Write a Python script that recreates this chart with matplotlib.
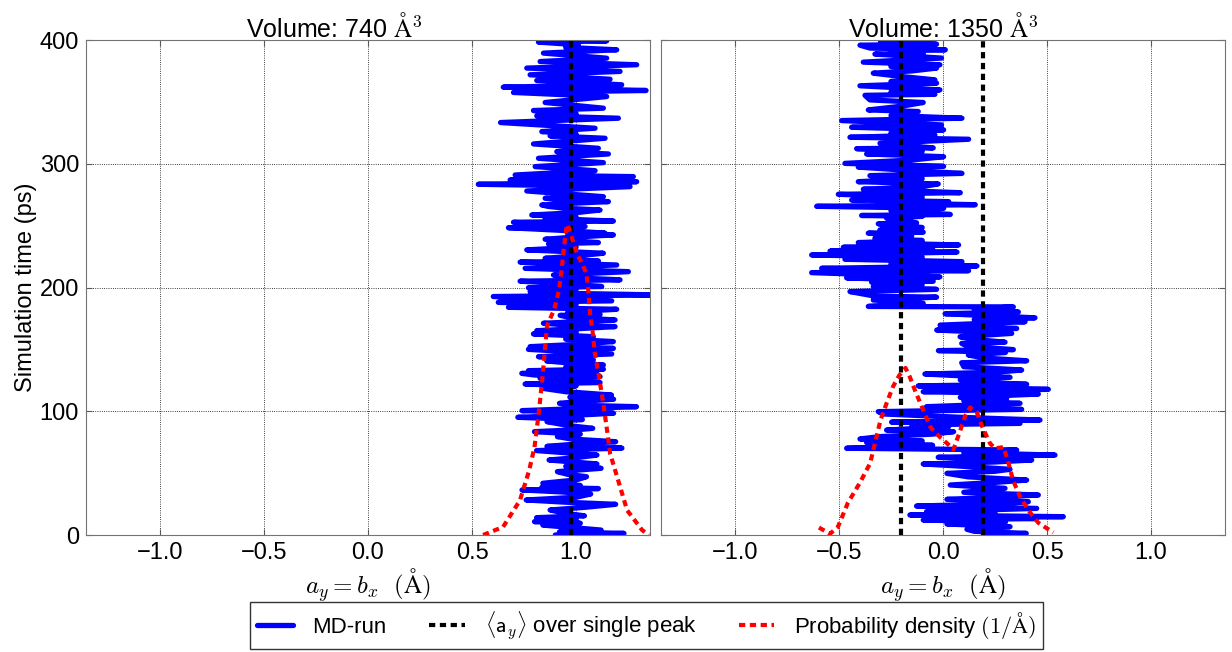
import matplotlib
matplotlib.use("Agg")
import matplotlib.pyplot as plt

plt.rcParams['font.family'] = ['Liberation Sans', 'DejaVu Sans']
plt.rcParams['mathtext.fontset'] = 'cm'
plt.rcParams['font.size'] = 17

# ---- data ----
# left panel, volume 740 A^3 : MD run (time in ps, a_y in A)
t_740 = [0, 1.3, 2.5, 4, 6, 8, 9.5, 10.8, 12.5, 14, 15.5, 17.5, 20.2, 22.5, 24.8, 26.5, 28.3, 30.5,
         33.1, 34.8, 36.4, 37.5, 38.5, 40, 41.8, 44.5, 47.1, 49, 51.2, 53.9, 55.5, 57.4, 60.6, 62.5,
         64.6, 66.5, 68.2, 70.2, 71.6, 73.5, 75.4, 77.5, 79.5, 81.5, 83.5, 85, 86.2, 88.5, 91.6, 93.3,
         95.1, 96.8, 98.4, 100.5, 102, 103.7, 105, 106.4, 108, 109.7, 111.4, 113.1, 115.8, 118.5, 120.5,
         122, 123.2, 124.8, 126.6, 128, 129.3, 130.6, 131.7, 132.8, 134, 135.7, 137.4, 139, 140.6, 141.5,
         144.1, 146.3, 148.3, 150, 150.8, 152.2, 154, 156.3, 158.3, 160.3, 162.5, 163.8, 165.1, 166.8,
         168.4, 169.8, 171.1, 173.8, 175.8, 177.5, 178.2, 180.2, 182.4, 184.0, 186.3, 188, 189.2, 192.7,
         194.0, 195.3, 196.7, 198.5, 199.8, 200.8, 203, 205.1, 206.2, 208, 210.1, 212.8, 215.5, 218.2,
         220.5, 221.4, 223.6, 225.5, 227.7, 229, 230.4, 232.5, 235.3, 236.3, 239.0, 240.8, 242.5, 243.2,
         243.9, 246, 248.3, 249.3, 252.7, 253.7, 255.9, 257, 258.6, 260.5, 262.6, 264, 265.5, 266.7,
         268.2, 269.4, 270.8, 272.1, 273.4, 275.5, 278.0, 281.5, 283.4, 285.5, 286.9, 289.6, 290.9, 294.4,
         297.7, 300.9, 304.4, 307.9, 309.8, 312.5, 316.0, 320.6, 322.5, 324, 326, 328.7, 333.3, 336.8,
         338.7, 340.5, 343.0, 344.9, 349.5, 354.3, 357.6, 359.2, 361.9, 363.8, 367.3, 368.3, 371.9, 374.6,
         377.3, 380.0, 382.6, 385.3, 389.4, 392.1, 394, 396.1, 398.3, 399.3, 400]
a_740 = [0.90, 1.23, 0.92, 1.12, 0.98, 0.84, 1.02, 0.80, 1.00, 0.81, 1.04, 0.95, 0.875, 1.05, 1.19, 0.95, 0.76, 1.00,
         1.07, 0.93, 0.74, 1.107, 0.835, 1.02, 0.84, 1.00, 1.05, 0.96, 0.91, 1.12, 0.95, 1.10, 0.87, 1.00,
         1.10, 0.95, 0.81, 1.22, 0.86, 1.00, 1.19, 0.98, 0.91, 1.02, 0.80, 1.00, 1.08, 0.96, 0.86, 1.03,
         0.72, 1.00, 1.18, 0.74, 0.99, 1.29, 0.97, 0.92, 1.02, 1.18, 0.97, 1.17, 0.95, 0.84, 1.00,
         0.755, 1.115, 0.95, 0.827, 1.115, 0.80, 0.739, 1.099, 0.771, 1.131, 0.95, 1.131, 0.97, 0.859, 1.083,
         0.819, 1.171, 0.95, 0.771, 1.179, 0.779, 1.00, 1.179, 0.95, 1.083, 0.795, 1.00, 0.811, 1.02,
         1.187, 0.95, 0.843, 1.187, 0.97, 0.923, 1.115, 0.96, 1.195, 0.675, 1.00, 0.626, 1.171, 0.602,
         1.40, 0.95, 0.779, 1.00, 0.771, 1.123, 0.96, 0.731, 1.211, 0.97, 0.891, 1.251, 0.755, 1.195,
         0.731, 1.107, 0.851, 1.00, 1.131, 0.95, 0.763, 1.00, 0.867, 1.107, 0.851, 1.00, 1.179, 0.96,
         1.139, 0.95, 0.675, 1.043, 0.699, 1.179, 0.851, 1.00, 0.787, 1.00, 1.115, 0.95, 0.867, 0.835,
         1.00, 1.155, 0.93, 0.851, 1.131, 0.96, 0.763, 1.259, 0.530, 1.291, 0.683, 1.275, 0.707, 1.091,
         0.803, 1.131, 0.819, 1.155, 0.907, 1.107, 0.795, 1.139, 0.875, 1.00, 0.835, 1.091, 0.637, 1.203,
         0.811, 1.00, 0.795, 1.131, 0.851, 1.147, 0.699, 1.336, 0.650, 1.219, 0.811, 1.163, 0.779, 1.211,
         0.763, 1.291, 0.827, 1.147, 0.843, 1.195, 0.95, 1.011, 0.819, 1.147, 0.97]

# right panel, volume 1350 A^3 : MD run
t_1350 = [0, 1.3, 3, 4.6, 6.7, 8.9, 10.5, 12.1, 13.3, 14.1, 14.8, 16.2, 17.5, 18.9, 21.5, 23.4, 25, 26.9,
          28.8, 30.5, 32.3, 34.5, 37.7, 40.4, 42.5, 44.4, 47, 49.8, 51.5, 53.1, 55.5, 57.4, 59, 60.6,
          62.8, 64.6, 66.5, 68.7, 70.1, 72.5, 74.7, 76, 77.6, 79.5, 81.5, 83.5, 84.8, 87.5, 89, 90.2,
          91.2, 92.9, 95, 97.8, 99.7, 101.5, 103.7, 106.4, 108.5, 110.4, 111.2, 113.9, 115.8, 117.7,
          119.5, 120.5, 121.8, 123.5, 125.3, 127.4, 128.5, 130.1, 131.5, 133.3, 136, 139.2, 140.8, 143,
          145.4, 147.5, 149.0, 149.8, 152.5, 154.8, 155.8, 158, 160.2, 162.9, 165.6, 166.9, 169.6, 172.3,
          174, 175.5, 178.8, 180.2, 182.5, 184.3, 184.7, 187.2, 189.9, 192.2, 193, 196.7, 198.5, 200.7,
          202.5, 204.3, 205.1, 207.8, 208.6, 212.0, 213.6, 215.5, 217.4, 219, 220.9, 222.8, 224.5, 226.3,
          228.6, 229.4, 231, 232.5, 234.4, 236.3, 238, 239.8, 242, 243.9, 244.7, 246.5, 248.5, 251.5,
          252.3, 256.0, 257.5, 258.2, 259, 262, 264.0, 265.6, 266.9, 268.5, 269.4, 270.7, 273, 275.3,
          276.6, 279.4, 281.5, 283.7, 285.5, 288, 290.4, 292.2, 295, 297.3, 297.9, 300.3, 303, 305.7,
          307.9, 310, 312.2, 312.8, 316.5, 319.8, 321.4, 323.3, 325, 327.4, 329.5, 331.4, 334.9, 336.8,
          339, 342.2, 343.5, 346.5, 349.5, 351.6, 355.3, 356.1, 358, 359.7, 363.0, 365.1, 366.5, 367.8,
          370.5, 373.2, 375, 377.3, 378.6, 380.0, 382.1, 385.4, 388.6, 389.2, 391, 392.1, 393.5, 395.8,
          396.6, 398.5, 400]
a_1350 = [0.20, 0.40, 0.15, 0.115, 0.322, 0.019, 0.30, -0.095, 0.45, 0.10, 0.578, -0.159, 0.25, -0.079, 0.45, -0.127, 0.25, 0.41,
          0.019, 0.25, 0.458, 0.10, 0.298, 0.035, 0.25, 0.402, 0.12, 0.019, 0.25, 0.322, 0.10, -0.095, 0.25, 0.426,
          -0.023, 0.538, 0.10, 0.354, -0.463, -0.05, -0.367, -0.10, -0.399, -0.303, -0.05, 0.051, -0.271, 0.027, -0.15, 0.37,
          -0.247, 0.466, 0.10, -0.287, -0.311, 0.378, -0.079, 0.37, 0.10, 0.306, 0.083, 0.458, -0.095, 0.506,
          0.15, -0.119, 0.402, 0.15, 0.083, 0.322, 0.10, -0.087, 0.25, 0.378, 0.10, 0.09, 0.402, 0.20,
          0.122, 0.30, -0.022, 0.338, 0.12, 0.09, 0.298, 0.15, 0.082, 0.33, -0.03, 0.354, -0.014, 0.394,
          0.15, 0.442, 0.01, 0.362, 0.15, 0.338, -0.359, -0.095, -0.335, -0.031, -0.327, -0.447, -0.031, -0.335,
          -0.10, -0.343, -0.047, -0.463, -0.015, -0.631, 0.123, -0.583, 0.163, -0.25, 0.091, -0.471, -0.10, -0.631,
          0.067, -0.543, -0.05, -0.479, 0.075, -0.407, -0.10, -0.327, -0.15, -0.359, -0.095, -0.303, -0.10, -0.311,
          -0.127, -0.271, -0.10, -0.391, 0.035, -0.25, 0.003, -0.607, 0.155, -0.30, 0.027, -0.439, -0.10, -0.503,
          0.083, -0.383, -0.10, -0.023, -0.407, -0.10, -0.351, 0.091, -0.20, -0.407, 0.003, -0.471, -0.15, 0.003,
          -0.367, -0.10, -0.415, -0.047, -0.303, 0.123, -0.447, -0.039, -0.25, 0.003, -0.439, -0.007, -0.487, 0.091,
          -0.25, -0.119, -0.359, -0.20, -0.095, -0.351, -0.375, -0.039, -0.25, -0.015, -0.399, -0.031, -0.25, -0.039,
          -0.20, -0.335, -0.15, -0.031, -0.25, -0.015, -0.383, -0.007, -0.327, -0.095, -0.25, 0.011, -0.351, -0.399,
          -0.031, -0.30, -0.10]

# averages over single peaks
mean_740 = [0.975]
mean_1350 = [-0.20, 0.19]

# probability density curves (x in A, scaled into the time axis)
pd_x_740 = [0.553, 0.649, 0.73, 0.774, 0.80, 0.82, 0.84, 0.86, 0.894, 0.918, 0.93, 0.94, 0.952, 0.96, 0.976,
            1.005, 1.03, 1.05, 1.06, 1.067, 1.08, 1.09, 1.11, 1.13, 1.15, 1.163, 1.197, 1.245, 1.317, 1.35]
pd_y_740 = [0, 6.5, 28, 52, 71, 98, 130, 169, 182, 198, 214, 230, 247, 251, 242,
            227, 219, 211, 195, 179, 163, 147, 128, 107, 83, 66, 47, 20, 4, 0]
pd_x_1350 = [-0.596, -0.543, -0.505, -0.457, -0.40, -0.35, -0.32, -0.30, -0.27, -0.24, -0.21, -0.18, -0.16,
             -0.135, -0.10, -0.06, -0.014, 0.02, 0.05, 0.08, 0.106, 0.13, 0.163, 0.19, 0.226, 0.25, 0.29,
             0.31, 0.337, 0.37, 0.41, 0.457, 0.53]
pd_y_1350 = [6, 1, 6.5, 26, 42, 58, 79, 93, 107, 120, 129, 135, 128,
             117, 103, 87, 79, 74, 69, 83, 96, 103, 99, 87, 74, 70, 71,
             61, 44, 31, 20, 10, 2]

titles = ['Volume: 740 $\\mathrm{\\AA}^3$', 'Volume: 1350 $\\mathrm{\\AA}^3$']
title_x = [0.44, 0.5]
xticks = [-1.0, -0.5, 0.0, 0.5, 1.0]
yticks = [0, 100, 200, 300, 400]

fig = plt.figure(figsize=(12.32, 6.52), dpi=100)
ax1 = fig.add_axes([86 / 1232, 1 - 535 / 652, 564 / 1232, 495 / 652])
ax2 = fig.add_axes([661 / 1232, 1 - 535 / 652, 564 / 1232, 495 / 652])

dots = (0, (1.5, 1.1))
panels = [(ax1, t_740, a_740, mean_740, pd_x_740, pd_y_740),
          (ax2, t_1350, a_1350, mean_1350, pd_x_1350, pd_y_1350)]

for i, (ax, t, a, means, px, py) in enumerate(panels):
    h1, = ax.plot(a, t, color='#0000ff', lw=3.8, solid_joinstyle='round', solid_capstyle='round',
                  label='MD-run', zorder=2)
    for m in means:
        h2, = ax.plot([m, m], [0, 400], color='black', lw=3, linestyle=dots,
                      label=r'$\langle \mathsf{a}_y \rangle$ over single peak', zorder=3)
    h3, = ax.plot(px, py, color='red', lw=3, linestyle=dots,
                  label=r'Probability density $(1/\mathrm{\AA})$', zorder=4)
    ax.set_xlim(-1.355, 1.355)
    ax.set_ylim(0, 400)
    ax.set_xticks(xticks)
    ax.set_yticks(yticks)
    ax.set_xticklabels(['\u22121.0', '\u22120.5', '0.0', '0.5', '1.0'])
    ax.grid(True, color='black', linestyle=':', lw=0.6)
    ax.tick_params(direction='in', top=True, right=True, length=4, labelsize=17, color='0.35', pad=5)
    for s in ax.spines.values():
        s.set_color('0.45')
    ax.set_title(titles[i], fontsize=18, pad=2, x=title_x[i])
    ax.set_xlabel(r'$a_y = b_x\ \ (\mathrm{\AA})$', fontsize=18, labelpad=2)

ax1.set_ylabel('Simulation time (ps)', fontsize=17, labelpad=2)
ax2.tick_params(labelleft=False)

leg = fig.legend([h1, h2, h3], [h1.get_label(), h2.get_label(), h3.get_label()],
                 loc='lower center', bbox_to_anchor=(0.525, 0.0), ncol=3, fontsize=16,
                 frameon=True, fancybox=False, handlelength=1.6, handletextpad=0.9,
                 columnspacing=1.9, borderpad=0.3, borderaxespad=0.15)
leg.get_frame().set_edgecolor('black')
leg.get_frame().set_linewidth(1.0)

fig.savefig('out.png', dpi=100)
